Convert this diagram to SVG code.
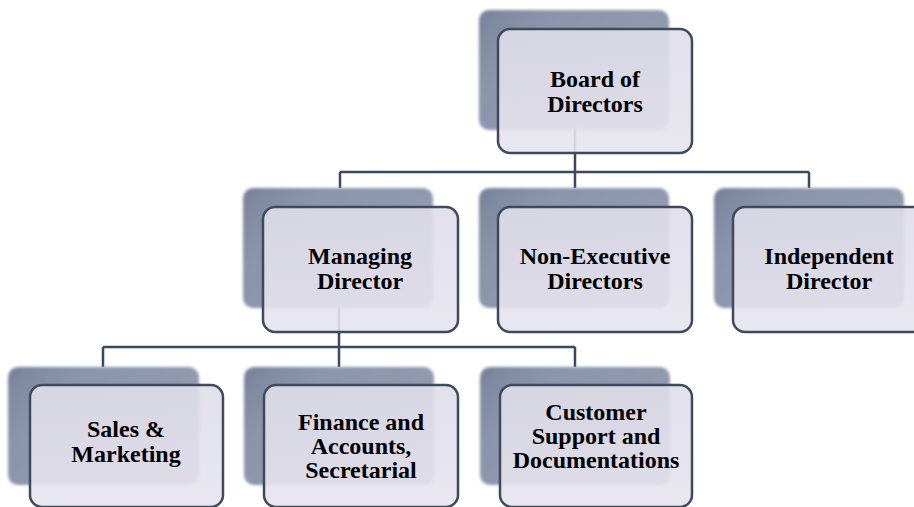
<svg xmlns="http://www.w3.org/2000/svg" width="914" height="507" viewBox="0 0 914 507">
  <defs>
    <linearGradient id="backGrad" x1="0" y1="0" x2="1" y2="0.6">
      <stop offset="0" stop-color="#76809a"/>
      <stop offset="0.12" stop-color="#808aa0"/>
      <stop offset="0.3" stop-color="#8a94aa"/>
      <stop offset="1" stop-color="#939cb1"/>
    </linearGradient>
    <linearGradient id="frontGrad" x1="0" y1="0" x2="0" y2="1">
      <stop offset="0" stop-color="#dfdde9"/>
      <stop offset="1" stop-color="#e6e4ee"/>
    </linearGradient>
    <filter id="soft" x="-10%" y="-10%" width="120%" height="120%">
      <feGaussianBlur stdDeviation="1.4"/>
    </filter>
  </defs>
  <style>
    .back { fill: url(#backGrad); filter: url(#soft); }
    .front { fill: url(#frontGrad); fill-opacity: 0.9; stroke: #3f4a5e; stroke-width: 2.5; }
    .conn { fill: none; stroke: #3a495e; stroke-width: 2.5; }
    .lbl { font-family: "Liberation Serif", "Times New Roman", serif; font-weight: bold; font-size: 24px; fill: #000; text-anchor: middle; }
  </style>
  <rect width="914" height="507" fill="#ffffff"/>

  <g id="connectors">
    <path class="conn" d="M575 100 V188 M340 172 H809 M340 172 V188 M809 172 V188"/>
    <path class="conn" d="M339 280 V367 M103 347 H575 M103 347 V367 M575 347 V367"/>
  </g>

  <g id="board">
    <rect class="back" x="479" y="10" width="190" height="120" rx="10"/>
    <rect class="front" x="498" y="29" width="194" height="124" rx="12"/>
    <text class="lbl" x="595" y="87">Board of</text>
    <text class="lbl" x="595" y="112">Directors</text>
  </g>

  <g id="managing">
    <rect class="back" x="243" y="188" width="190" height="120" rx="10"/>
    <rect class="front" x="263" y="207" width="195" height="125" rx="12"/>
    <text class="lbl" x="360" y="264">Managing</text>
    <text class="lbl" x="360" y="289">Director</text>
  </g>

  <g id="nonexec">
    <rect class="back" x="479" y="188" width="190" height="120" rx="10"/>
    <rect class="front" x="498" y="207" width="194" height="125" rx="12"/>
    <text class="lbl" x="595" y="264">Non-Executive</text>
    <text class="lbl" x="595" y="289">Directors</text>
  </g>

  <g id="independent">
    <rect class="back" x="714" y="188" width="190" height="120" rx="10"/>
    <rect class="front" x="733" y="207" width="194" height="125" rx="12"/>
    <text class="lbl" x="829" y="264">Independent</text>
    <text class="lbl" x="829" y="289">Director</text>
  </g>

  <g id="sales">
    <rect class="back" x="8" y="367" width="191" height="118" rx="10"/>
    <rect class="front" x="30" y="385" width="193" height="122" rx="12"/>
    <text class="lbl" x="126" y="437">Sales &amp;</text>
    <text class="lbl" x="126" y="462">Marketing</text>
  </g>

  <g id="finance">
    <rect class="back" x="244" y="367" width="190" height="118" rx="10"/>
    <rect class="front" x="264" y="385" width="194" height="122" rx="12"/>
    <text class="lbl" x="361" y="430">Finance and</text>
    <text class="lbl" x="361" y="454">Accounts,</text>
    <text class="lbl" x="361" y="478">Secretarial</text>
  </g>

  <g id="customer">
    <rect class="back" x="480" y="367" width="190" height="118" rx="10"/>
    <rect class="front" x="500" y="385" width="192" height="122" rx="12"/>
    <text class="lbl" x="596" y="420">Customer</text>
    <text class="lbl" x="596" y="444">Support and</text>
    <text class="lbl" x="596" y="468">Documentations</text>
  </g>
</svg>
